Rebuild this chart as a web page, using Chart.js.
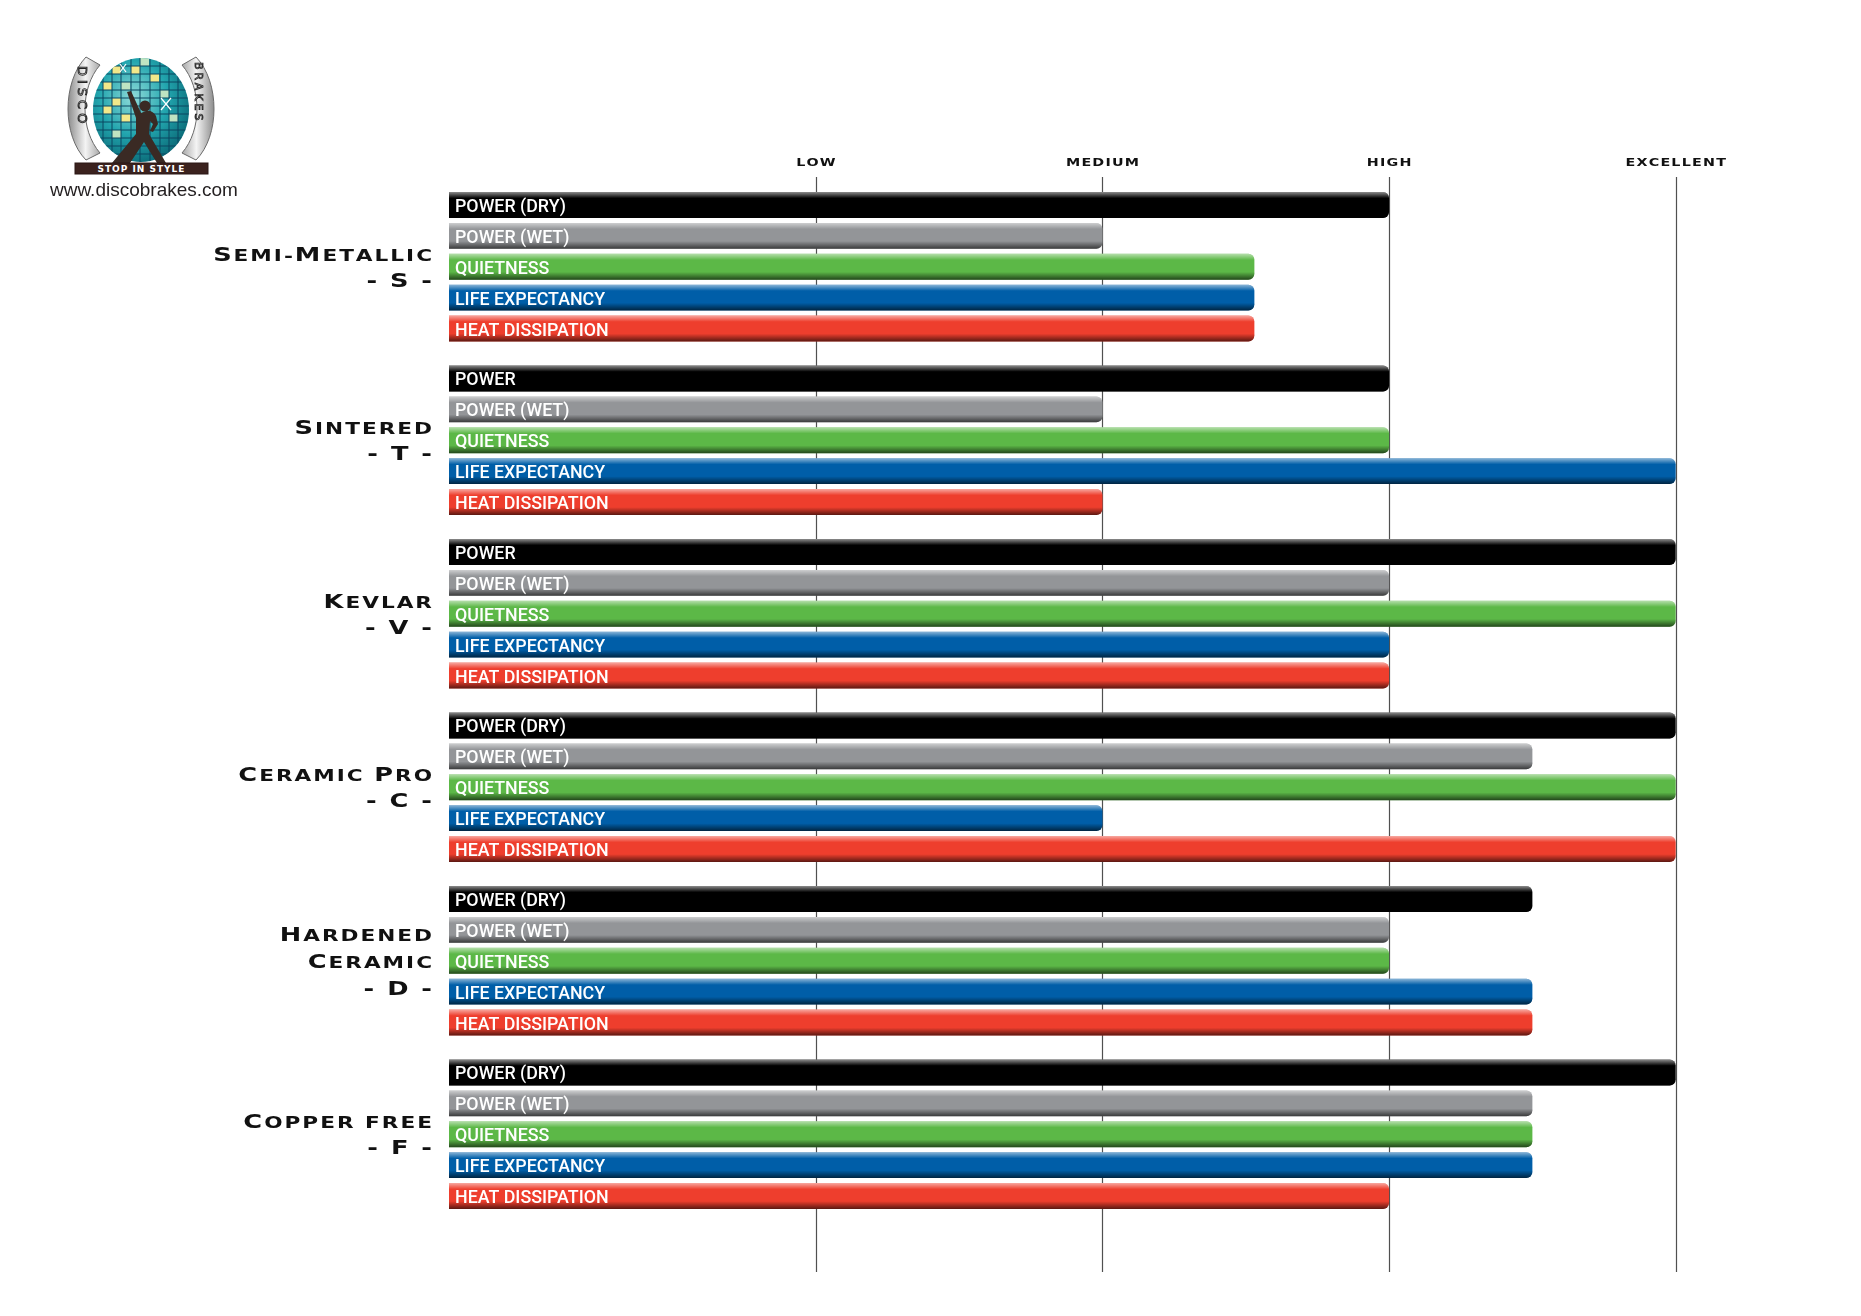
<!DOCTYPE html>
<html>
<head>
<meta charset="utf-8">
<script src="https://cdn.jsdelivr.net/npm/chart.js@4.4.1/dist/chart.umd.min.js"></script>
<style>
html,body{margin:0;padding:0;background:#ffffff;}
#wrap{position:relative;width:1861px;height:1316px;overflow:hidden;}
#c{position:absolute;left:0;top:0;}
#logo{position:absolute;left:0;top:0;}
#url{position:absolute;left:50px;top:179px;font:19px "Liberation Sans",Arial,sans-serif;color:#231f20;white-space:nowrap;}
</style>
</head>
<body>
<div id="wrap">
<canvas id="c" width="1861" height="1316"></canvas>
<svg id="logo" width="260" height="190" viewBox="0 0 260 190">
  <defs>
    <radialGradient id="ballg" cx="42%" cy="38%" r="65%">
      <stop offset="0" stop-color="#8fdbd9"/>
      <stop offset="0.55" stop-color="#22a5ae"/>
      <stop offset="1" stop-color="#0b6b78"/>
    </radialGradient>
    <linearGradient id="plateL" x1="0" x2="1" y1="0" y2="0">
      <stop offset="0" stop-color="#8c8c8c"/>
      <stop offset="0.55" stop-color="#f4f4f4"/>
      <stop offset="1" stop-color="#a8a8a8"/>
    </linearGradient>
    <linearGradient id="plateR" x1="1" x2="0" y1="0" y2="0">
      <stop offset="0" stop-color="#8c8c8c"/>
      <stop offset="0.55" stop-color="#f4f4f4"/>
      <stop offset="1" stop-color="#a8a8a8"/>
    </linearGradient>
    <clipPath id="ballclip"><ellipse cx="141" cy="110" rx="48" ry="52"/></clipPath>
  </defs>
  <path d="M86 57 C62 82 62 136 86 160 L100 153 C80 130 80 88 100 65 Z" fill="url(#plateL)" stroke="#6a6a6a" stroke-width="1"/>
  <path d="M196 57 C220 82 220 136 196 160 L182 153 C202 130 202 88 182 65 Z" fill="url(#plateR)" stroke="#6a6a6a" stroke-width="1"/>
  <text transform="translate(78,66) rotate(90)" font-family="DejaVu Sans" font-size="13" letter-spacing="4" fill="#ffffff" stroke="#222" stroke-width="0.9">DISCO</text>
  <text transform="translate(195,62) rotate(90)" font-family="DejaVu Sans" font-size="11" letter-spacing="3" fill="#ffffff" stroke="#222" stroke-width="0.8">BRAKES</text>
  <ellipse cx="141" cy="110" rx="48" ry="52" fill="url(#ballg)"/>
  <g clip-path="url(#ballclip)">
    <rect x="112" y="66" width="9" height="8" fill="#f1e88a"/>
    <rect x="131" y="66" width="9" height="8" fill="#f1e88a"/>
    <rect x="150" y="74" width="9" height="8" fill="#f1e88a"/>
    <rect x="103" y="82" width="9" height="8" fill="#f1e88a"/>
    <rect x="121" y="82" width="9" height="8" fill="#bfe4c2"/>
    <rect x="112" y="98" width="9" height="8" fill="#f1e88a"/>
    <rect x="103" y="106" width="9" height="8" fill="#f1e88a"/>
    <rect x="121" y="114" width="9" height="8" fill="#f1e88a"/>
    <rect x="160" y="90" width="9" height="8" fill="#bfe4c2"/>
    <rect x="140" y="58" width="9" height="8" fill="#bfe4c2"/>
    <rect x="112" y="130" width="9" height="8" fill="#bfe4c2"/>
    <rect x="169" y="114" width="9" height="8" fill="#bfe4c2"/>
    <g stroke="#0a4660" stroke-width="1" fill="none">
      <line x1="90" y1="66" x2="192" y2="66"/><line x1="90" y1="74" x2="192" y2="74"/>
      <line x1="90" y1="82" x2="192" y2="82"/><line x1="90" y1="90" x2="192" y2="90"/>
      <line x1="90" y1="98" x2="192" y2="98"/><line x1="90" y1="106" x2="192" y2="106"/>
      <line x1="90" y1="114" x2="192" y2="114"/><line x1="90" y1="122" x2="192" y2="122"/>
      <line x1="90" y1="130" x2="192" y2="130"/><line x1="90" y1="138" x2="192" y2="138"/>
      <line x1="90" y1="146" x2="192" y2="146"/><line x1="90" y1="154" x2="192" y2="154"/>
      <line x1="103" y1="55" x2="103" y2="165"/><line x1="112" y1="55" x2="112" y2="165"/>
      <line x1="121" y1="55" x2="121" y2="165"/><line x1="131" y1="55" x2="131" y2="165"/>
      <line x1="140" y1="55" x2="140" y2="165"/><line x1="150" y1="55" x2="150" y2="165"/>
      <line x1="160" y1="55" x2="160" y2="165"/><line x1="169" y1="55" x2="169" y2="165"/>
      <line x1="178" y1="55" x2="178" y2="165"/>
    </g>
  </g>
  <g stroke="#ffffff" stroke-width="1.2">
    <line x1="161" y1="98" x2="171" y2="110"/><line x1="171" y1="98" x2="161" y2="110"/>
    <line x1="120" y1="64" x2="126" y2="72"/><line x1="126" y1="64" x2="120" y2="72"/>
  </g>
  <path d="M127 92 L131 91 L141 113 L146 111 C150 110 154 112 156 116 L158 124 L153 132 L150 131 L153 124 L150 121 L149 134 L166 163 L157 163 L144 142 L130 163 L112 163 L136 134 L136 118 Z" fill="#3a2a24"/>
  <circle cx="145" cy="106" r="5.5" fill="#3a2a24"/>
  <rect x="75" y="163" width="133" height="11" fill="#3b221e" stroke="#2a1714" stroke-width="1"/>
  <text x="141.5" y="172" text-anchor="middle" font-family="DejaVu Sans" font-weight="bold" font-size="9" letter-spacing="1" fill="#ffffff">STOP IN STYLE</text>
</svg>
<div id="url">www.discobrakes.com</div>
</div>
<script>
// ---- data ----
const categories = [
  ['Semi-Metallic', '- S -'],
  ['Sintered', '- T -'],
  ['Kevlar', '- V -'],
  ['Ceramic Pro', '- C -'],
  ['Hardened', 'Ceramic', '- D -'],
  ['Copper free', '- F -']
];
const seriesNames = ['POWER (DRY)', 'POWER (WET)', 'QUIETNESS', 'LIFE EXPECTANCY', 'HEAT DISSIPATION'];
const powerLabels = ['POWER (DRY)', 'POWER', 'POWER', 'POWER (DRY)', 'POWER (DRY)', 'POWER (DRY)'];
// ratings: 1 = LOW, 2 = MEDIUM, 3 = HIGH, 4 = EXCELLENT
const powerDry        = [3,    3, 4, 4,   3.5, 4];
const powerWet        = [2,    2, 3, 3.5, 3,   3.5];
const quietness       = [2.53, 3, 4, 4,   3,   3.5];
const lifeExpectancy  = [2.53, 4, 3, 2,   3.5, 3.5];
const heatDissipation = [2.53, 2, 3, 4,   3.5, 3];
const tickValues = [1, 2, 3, 4];
const tickLabels = ['LOW', 'MEDIUM', 'HIGH', 'EXCELLENT'];
const seriesColors = ['#000000', '#939598', '#5cb847', '#005ea8', '#ee3e2d'];

const seriesValues = [powerDry, powerWet, quietness, lifeExpectancy, heatDissipation];
const XMIN = -0.28, XMAX = 4.5;

function drawWide(ctx, str, x, y, align, big, small, sx, sp, fam) {
  const chars = [...str];
  const hasLower = /[a-z]/.test(str);
  const items = chars.map(ch => {
    const isLetter = ch.toUpperCase() !== ch.toLowerCase();
    let size;
    if (isLetter) size = (ch === ch.toUpperCase()) ? big : small;
    else size = hasLower ? small : big;
    ctx.font = 'bold ' + size + 'px ' + fam;
    const u = ch.toUpperCase();
    return {ch: u, size, w: ctx.measureText(u).width * sx};
  });
  const total = items.reduce((a, it) => a + it.w, 0) + sp * (items.length - 1);
  let cx = align === 'right' ? x - total : (align === 'center' ? x - total / 2 : x);
  items.forEach(it => {
    ctx.font = 'bold ' + it.size + 'px ' + fam;
    ctx.save();
    ctx.translate(cx, y);
    ctx.scale(sx, 1);
    ctx.fillText(it.ch, 0, 0);
    ctx.restore();
    cx += it.w + sp;
  });
}

const decor = {
  id: 'decor',
  beforeDatasetsDraw(chart) {
    const ctx = chart.ctx, x = chart.scales.x, a = chart.chartArea;
    ctx.save();
    ctx.strokeStyle = '#505050';
    ctx.lineWidth = 1.2;
    tickValues.forEach(v => {
      const px = Math.round(x.getPixelForValue(v)) + 0.5;
      ctx.beginPath();
      ctx.moveTo(px, a.top - 3);
      ctx.lineTo(px, a.bottom + 51);
      ctx.stroke();
    });
    // top tick labels
    ctx.fillStyle = '#111';
    ctx.textBaseline = 'alphabetic';
    tickValues.forEach((v, i) => {
      drawWide(ctx, tickLabels[i], x.getPixelForValue(v), a.top - 14, 'center', 11, 11, 1.3, 1.2, '"DejaVu Sans"');
    });
    // category labels
    const y = chart.scales.y;
    categories.forEach((lines, i) => {
      const cy = y.getPixelForValue(i);
      const lh = lines.length > 2 ? 27 : 26;
      const start = cy - lh * (lines.length - 1) / 2;
      lines.forEach((ln, k) => {
        drawWide(ctx, ln, a.left - 17, start + lh * k + 7, 'right', 19, 16, 1.35, 2, '"DejaVu Sans"');
      });
    });
    ctx.restore();
  },
  afterDatasetsDraw(chart) {
    const ctx = chart.ctx;
    ctx.save();
    chart.data.datasets.forEach((ds, di) => {
      const meta = chart.getDatasetMeta(di);
      meta.data.forEach((el, j) => {
        const p = el.getProps(['x', 'y', 'base', 'height'], true);
        const left = Math.min(p.x, p.base), w = Math.abs(p.x - p.base), h = p.height, top = p.y - h / 2;
        const g = ctx.createLinearGradient(0, top, 0, top + h);
        g.addColorStop(0, 'rgba(255,255,255,0.55)');
        g.addColorStop(0.24, 'rgba(255,255,255,0)');
        g.addColorStop(0.7, 'rgba(0,0,0,0)');
        g.addColorStop(1, 'rgba(0,0,0,0.62)');
        ctx.fillStyle = g;
        ctx.beginPath();
        ctx.roundRect(left, top, w, h, [0, 6, 6, 0]);
        ctx.fill();
        // label text
        const txt = di === 0 ? powerLabels[j] : seriesNames[di];
        ctx.fillStyle = '#ffffff';
        ctx.font = '500 18px Roboto';
        ctx.textBaseline = 'alphabetic';
        ctx.save();
        ctx.translate(left + 6, p.y + 7);
        ctx.scale(0.99, 1);
        ctx.fillText(txt, 0, 0);
        ctx.restore();
      });
    });
    ctx.restore();
  }
};

new Chart(document.getElementById('c'), {
  type: 'bar',
  data: {
    labels: categories.map(c => c.join(' ')),
    datasets: seriesValues.map((d, i) => ({
      label: seriesNames[i],
      data: d,
      base: XMIN,
      backgroundColor: seriesColors[i],
      borderRadius: 6,
      borderSkipped: 'start',
      categoryPercentage: 0.89,
      barPercentage: 0.84
    }))
  },
  options: {
    indexAxis: 'y',
    responsive: false,
    animation: false,
    layout: {padding: {left: 449, right: 42, top: 180, bottom: 95}},
    scales: {
      x: {type: 'linear', min: XMIN, max: XMAX, display: false},
      y: {type: 'category', display: false, offset: true}
    },
    plugins: {legend: {display: false}, tooltip: {enabled: false}}
  },
  plugins: [decor]
});
</script>
</body>
</html>
